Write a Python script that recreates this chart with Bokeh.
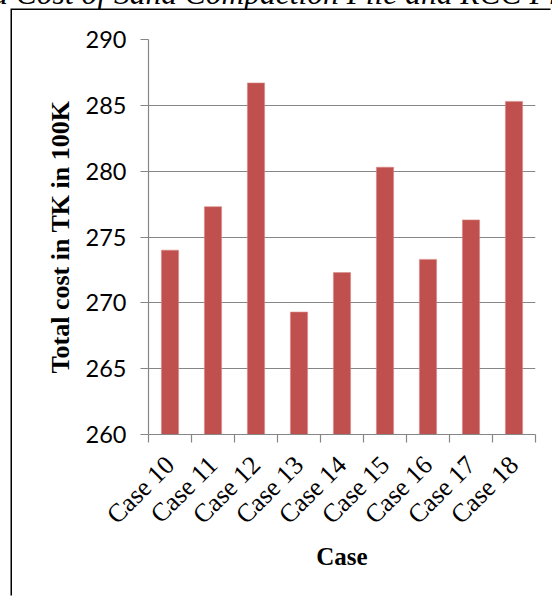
import math

from bokeh.embed import file_html
from bokeh.layouts import column
from bokeh.models import Div, FixedTicker, LinearAxis, Range1d
from bokeh.plotting import figure
from bokeh.resources import INLINE

# Total cost per case (TK, in units of 100K)
cases = ["Case 10", "Case 11", "Case 12", "Case 13", "Case 14",
         "Case 15", "Case 16", "Case 17", "Case 18"]
total_cost = [274.0, 277.3, 286.7, 269.3, 272.3, 280.3, 273.3, 276.3, 285.3]
y_ticks = [260, 265, 270, 275, 280, 285, 290]
caption = "Estimated Cost of Sand Compaction Pile and RCC Pile"

GRID = "#868686"
BAR = "#C0504D"

n = len(cases)
centers = [i + 0.5 for i in range(n)]
bounds = list(range(n + 1))

p = figure(width=540, height=587,
           x_range=Range1d(0, n), y_range=Range1d(y_ticks[0], y_ticks[-1]),
           x_axis_type=None,
           min_border_left=136, min_border_right=17,
           min_border_top=29, min_border_bottom=163,
           margin=(0, 0, 0, 12),
           styles={"box-shadow": "-1.5px -1.5px 0 0 black"},
           output_backend="svg", toolbar_location=None)
p.outline_line_color = None
p.background_fill_color = "white"
p.border_fill_color = "white"

p.vbar(x=centers, top=total_cost, bottom=y_ticks[0], width=0.4,
       fill_color=BAR, line_color="#D98A88", line_width=0.6)

# category axis: labels at bar centres, tick marks between categories
xaxis = LinearAxis(ticker=FixedTicker(ticks=centers, minor_ticks=bounds))
xaxis.major_label_overrides = {c: name for c, name in zip(centers, cases)}
xaxis.major_label_orientation = math.pi / 4
xaxis.major_tick_out = 0
xaxis.major_tick_in = 0
xaxis.minor_tick_out = 8
xaxis.minor_tick_in = 0
xaxis.minor_tick_line_color = GRID
xaxis.minor_tick_line_width = 1.2
xaxis.axis_line_color = GRID
xaxis.axis_line_width = 1.2
xaxis.major_label_text_font = "Liberation Serif"
xaxis.major_label_text_font_size = "26px"
xaxis.major_label_text_color = "black"
xaxis.major_label_standoff = 18
xaxis.axis_label = "Case"
xaxis.axis_label_text_font = "Liberation Serif"
xaxis.axis_label_text_font_style = "bold"
xaxis.axis_label_text_font_size = "25px"
xaxis.axis_label_text_color = "black"
xaxis.axis_label_standoff = 0
p.add_layout(xaxis, "below")

yaxis = p.yaxis[0]
yaxis.ticker = FixedTicker(ticks=y_ticks)
yaxis.major_tick_out = 8
yaxis.major_tick_in = 0
yaxis.minor_tick_out = 0
yaxis.minor_tick_in = 0
yaxis.major_tick_line_color = GRID
yaxis.major_tick_line_width = 1.2
yaxis.axis_line_color = GRID
yaxis.axis_line_width = 1.2
yaxis.major_label_text_font = "Lato"
yaxis.major_label_text_font_size = "23.5px"
yaxis.major_label_text_color = "black"
yaxis.major_label_standoff = 14
yaxis.axis_label = "Total cost in TK in 100K"
yaxis.axis_label_text_font = "Liberation Serif"
yaxis.axis_label_text_font_style = "bold"
yaxis.axis_label_text_font_size = "26px"
yaxis.axis_label_text_color = "black"
yaxis.axis_label_standoff = 8

p.xgrid.visible = False
p.ygrid.ticker = FixedTicker(ticks=y_ticks)
p.ygrid.grid_line_color = GRID
p.ygrid.grid_line_width = 1.2

# caption strip above the framed chart (its upper part runs off the page)
head = Div(
    text=(f'<div style="position:relative; top:-22px; left:-118px; '
          f'white-space:nowrap; font-family:\'Liberation Serif\'; '
          f'font-style:italic; font-size:31.5px; line-height:31.5px; '
          f'color:black;">{caption}</div>'),
    width=552, height=10, margin=(0, 0, 0, 0),
    styles={"overflow": "hidden"},
)

layout = column(head, p, spacing=0)
open("out.html", "w").write(file_html(layout, INLINE))
